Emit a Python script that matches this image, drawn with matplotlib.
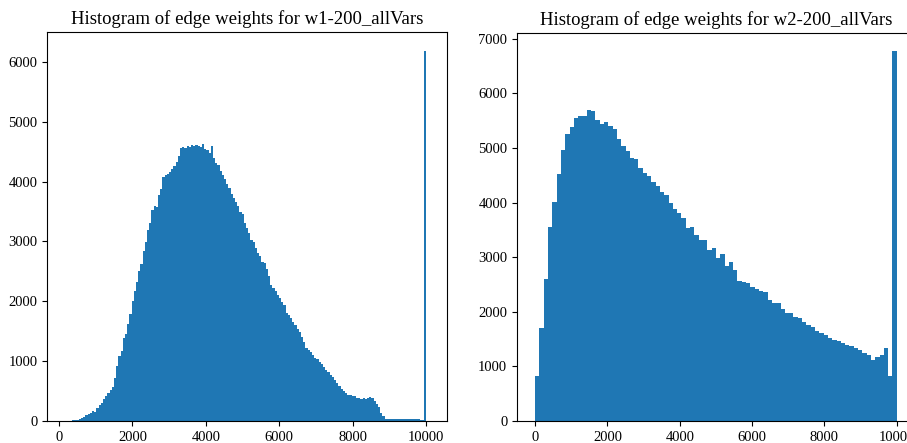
import numpy as np
import matplotlib
matplotlib.use("Agg")
import matplotlib.pyplot as plt

plt.rcParams['font.family'] = ['Liberation Serif', 'DejaVu Serif']

# w1: 165 bins between 175 and 10075
w1_range = (175, 10075)
w1_counts = [
    0, 0, 5, 10, 15, 20, 30, 45, 70, 100,
    110, 130, 160, 150, 210, 260, 300, 360, 420, 460,
    520, 560, 720, 920, 1090, 1170, 1390, 1460, 1620, 1780,
    2000, 2180, 2320, 2500, 2630, 2840, 2990, 3190, 3300, 3520,
    3600, 3570, 3770, 3880, 4080, 4110, 4120, 4160, 4210, 4260,
    4320, 4420, 4560, 4570, 4560, 4600, 4580, 4620, 4590, 4620,
    4600, 4580, 4630, 4550, 4520, 4480, 4590, 4400, 4310, 4280,
    4170, 4110, 4040, 3960, 3900, 3800, 3730, 3660, 3600, 3500,
    3460, 3300, 3220, 3140, 3020, 2990, 2890, 2800, 2760, 2650,
    2640, 2540, 2420, 2280, 2230, 2180, 2100, 2060, 1990, 1930,
    1810, 1770, 1720, 1660, 1600, 1540, 1480, 1400, 1320, 1220,
    1190, 1150, 1100, 1060, 1030, 990, 950, 900, 860, 820,
    770, 730, 680, 640, 590, 540, 500, 460, 440, 430,
    420, 410, 390, 380, 370, 380, 370, 390, 400, 380,
    330, 280, 230, 140, 80, 40, 40, 30, 30, 40,
    30, 30, 40, 30, 30, 35, 30, 35, 30, 25,
    25, 20, 10, 6190, 0,
]

# w2: 84 bins between 0 and 10000
w2_range = (0, 10000)
w2_counts = [
    825, 1700, 2600, 3550, 4010, 4520, 4960, 5260, 5380, 5550,
    5590, 5590, 5700, 5680, 5520, 5440, 5470, 5410, 5340, 5170,
    5040, 4940, 4820, 4800, 4640, 4540, 4480, 4370, 4300, 4200,
    4140, 3990, 3880, 3810, 3720, 3530, 3560, 3410, 3310, 3310,
    3140, 3170, 2980, 3060, 2830, 2920, 2760, 2560, 2540, 2520,
    2450, 2410, 2380, 2370, 2210, 2160, 2170, 2050, 1980, 1980,
    1910, 1880, 1820, 1760, 1730, 1640, 1610, 1580, 1520, 1490,
    1460, 1430, 1400, 1370, 1330, 1300, 1250, 1210, 1120, 1170,
    1200, 1345, 815, 6770,
]

titles = ['Histogram of edge weights for w1-200_allVars',
          'Histogram of edge weights for w2-200_allVars']

fig = plt.figure(figsize=(9.07, 4.43), dpi=100)
ax1 = fig.add_axes([0.0522, 0.0497, 0.4404, 0.878])
ax2 = fig.add_axes([0.570, 0.0497, 0.4387, 0.876])

for ax, rng, counts, title, ymax in [(ax1, w1_range, w1_counts, titles[0], 6000),
                                     (ax2, w2_range, w2_counts, titles[1], 7000)]:
    edges = np.linspace(rng[0], rng[1], len(counts) + 1)
    centers = (edges[:-1] + edges[1:]) / 2
    ax.hist(centers, bins=edges, weights=counts, color='#1f77b4')
    ax.set_title(title, fontsize=13.5)
    ax.set_xticks(range(0, 10001, 2000))
    ax.set_yticks(range(0, ymax + 1, 1000))
    ax.tick_params(labelsize=10.5)

fig.savefig('out.png', dpi=100)
